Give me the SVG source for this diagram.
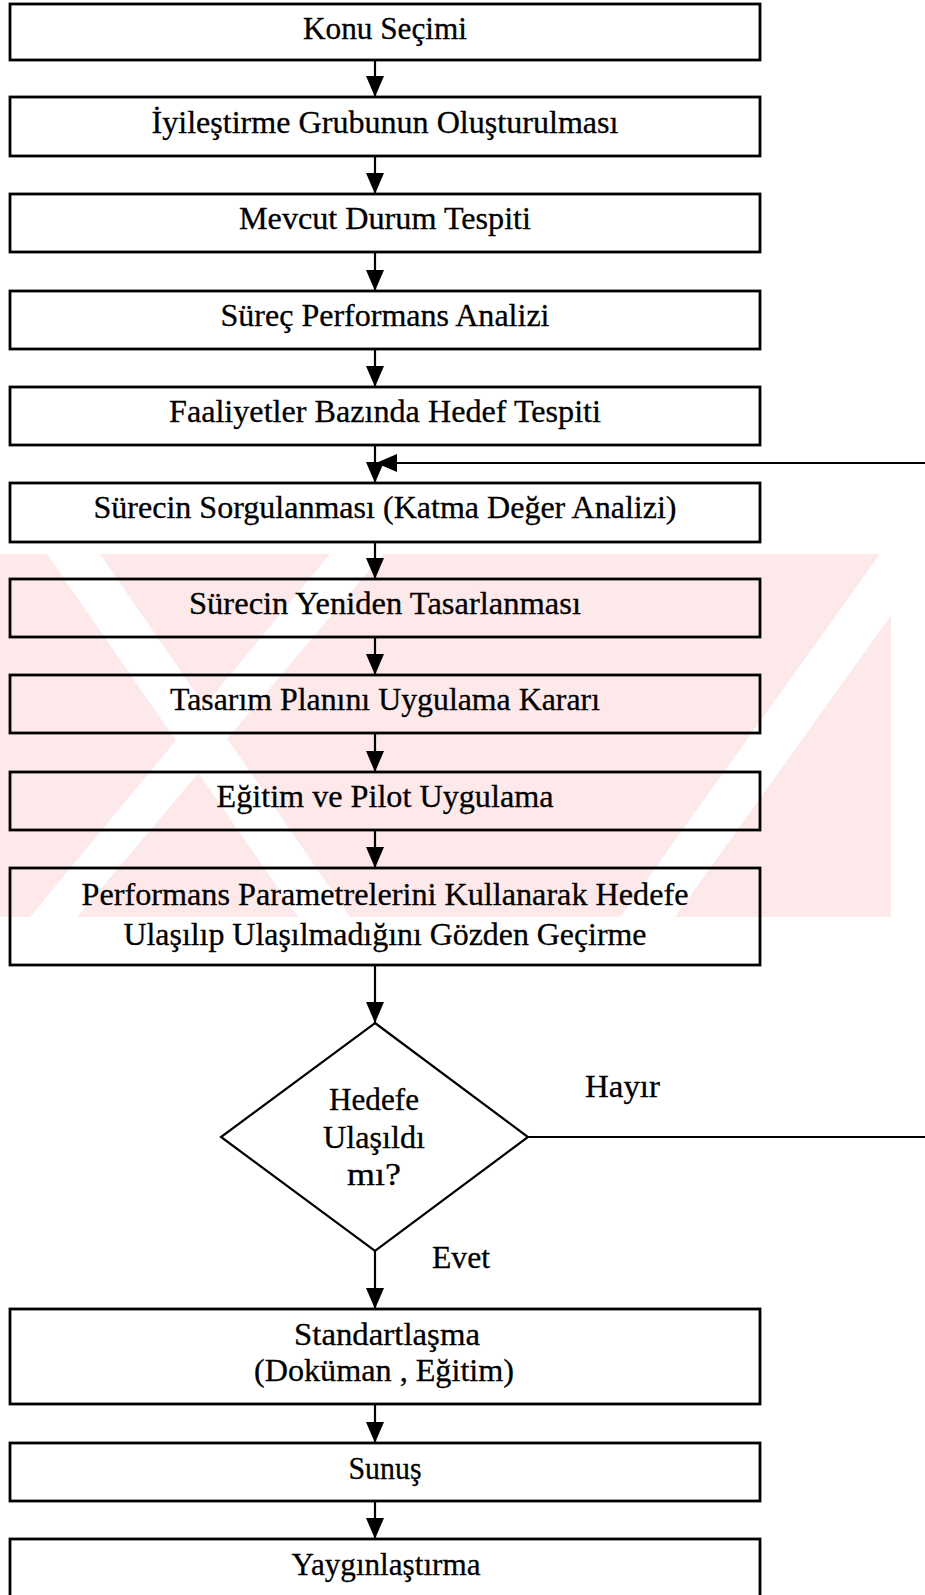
<svg xmlns="http://www.w3.org/2000/svg" width="925" height="1595" viewBox="0 0 925 1595">
<style>
  .box { fill: none; stroke: #000; stroke-width: 2.8; }
  .dia { fill: none; stroke: #000; stroke-width: 2.2; }
  .t { font-family: "Liberation Serif", "Times New Roman", serif; font-size: 31px; fill: #000; stroke: #000; stroke-width: 0.3; text-anchor: middle; }
  .lbl { font-family: "Liberation Serif", "Times New Roman", serif; font-size: 31px; fill: #000; stroke: #000; stroke-width: 0.3; }
  .con { fill: none; stroke: #000; stroke-width: 2.2; }
  .wm { fill: #fde9e9; }
  .gap { fill: #ffffff; }
</style>
<defs>
  <marker id="ah" markerUnits="userSpaceOnUse" markerWidth="22" markerHeight="20" refX="21" refY="10" orient="auto">
    <path d="M0,1 L21,10 L0,19 z" fill="#000"/>
  </marker>
  <clipPath id="wmclip"><rect x="0" y="554" width="891" height="363"/></clipPath>
</defs>
<rect x="0" y="0" width="925" height="1595" fill="#fff"/>
<g id="watermark" clip-path="url(#wmclip)">
  <rect class="wm" x="0" y="554" width="891" height="363"/>
  <polygon class="gap" points="47,554 100,554 350,917 298,917"/>
  <polygon class="gap" points="30,917 77,917 383,554 330,554"/>
  <polygon class="gap" points="620,917 675,917 935,554 880,554"/>
</g>
<g id="connectors">
  <line class="con" x1="375" y1="60" x2="375" y2="97" marker-end="url(#ah)"/>
  <line class="con" x1="375" y1="156" x2="375" y2="194" marker-end="url(#ah)"/>
  <line class="con" x1="375" y1="252" x2="375" y2="291" marker-end="url(#ah)"/>
  <line class="con" x1="375" y1="349" x2="375" y2="387" marker-end="url(#ah)"/>
  <line class="con" x1="375" y1="445" x2="375" y2="483" marker-end="url(#ah)"/>
  <line class="con" x1="375" y1="542" x2="375" y2="579" marker-end="url(#ah)"/>
  <line class="con" x1="375" y1="637" x2="375" y2="675" marker-end="url(#ah)"/>
  <line class="con" x1="375" y1="733" x2="375" y2="772" marker-end="url(#ah)"/>
  <line class="con" x1="375" y1="830" x2="375" y2="868" marker-end="url(#ah)"/>
  <line class="con" x1="375" y1="965" x2="375" y2="1023" marker-end="url(#ah)"/>
  <line class="con" x1="375" y1="1251" x2="375" y2="1309" marker-end="url(#ah)"/>
  <line class="con" x1="375" y1="1404" x2="375" y2="1443" marker-end="url(#ah)"/>
  <line class="con" x1="375" y1="1501" x2="375" y2="1539" marker-end="url(#ah)"/>
  <line class="con" x1="528" y1="1137" x2="925" y2="1137"/>
  <line class="con" x1="925" y1="463" x2="376" y2="463" marker-end="url(#ah)"/>
  <text class="lbl" x="585" y="1097" textLength="75" lengthAdjust="spacingAndGlyphs">Hayır</text>
  <text class="lbl" x="432" y="1268" textLength="58" lengthAdjust="spacingAndGlyphs">Evet</text>
</g>
<g id="n1"><rect class="box" x="10" y="4" width="750" height="56"/><text class="t" x="385" y="39" textLength="164" lengthAdjust="spacingAndGlyphs">Konu Seçimi</text></g>
<g id="n2"><rect class="box" x="10" y="97" width="750" height="59"/><text class="t" x="385" y="133" textLength="467" lengthAdjust="spacingAndGlyphs">İyileştirme Grubunun Oluşturulması</text></g>
<g id="n3"><rect class="box" x="10" y="194" width="750" height="58"/><text class="t" x="385" y="229" textLength="292" lengthAdjust="spacingAndGlyphs">Mevcut Durum Tespiti</text></g>
<g id="n4"><rect class="box" x="10" y="291" width="750" height="58"/><text class="t" x="385" y="326" textLength="329" lengthAdjust="spacingAndGlyphs">Süreç Performans Analizi</text></g>
<g id="n5"><rect class="box" x="10" y="387" width="750" height="58"/><text class="t" x="385" y="422" textLength="432" lengthAdjust="spacingAndGlyphs">Faaliyetler Bazında Hedef Tespiti</text></g>
<g id="n6"><rect class="box" x="10" y="483" width="750" height="59"/><text class="t" x="385" y="518" textLength="583" lengthAdjust="spacingAndGlyphs">Sürecin Sorgulanması (Katma Değer Analizi)</text></g>
<g id="n7"><rect class="box" x="10" y="579" width="750" height="58"/><text class="t" x="385" y="614" textLength="392" lengthAdjust="spacingAndGlyphs">Sürecin Yeniden Tasarlanması</text></g>
<g id="n8"><rect class="box" x="10" y="675" width="750" height="58"/><text class="t" x="385" y="710" textLength="430" lengthAdjust="spacingAndGlyphs">Tasarım Planını Uygulama Kararı</text></g>
<g id="n9"><rect class="box" x="10" y="772" width="750" height="58"/><text class="t" x="385" y="807" textLength="337" lengthAdjust="spacingAndGlyphs">Eğitim ve Pilot Uygulama</text></g>
<g id="n10"><rect class="box" x="10" y="868" width="750" height="97"/><text class="t" x="385" y="905" textLength="607" lengthAdjust="spacingAndGlyphs">Performans Parametrelerini Kullanarak Hedefe</text><text class="t" x="385" y="945" textLength="523" lengthAdjust="spacingAndGlyphs">Ulaşılıp Ulaşılmadığını Gözden Geçirme</text></g>
<g id="n11"><polygon class="dia" points="375,1023 528,1137 375,1251 221,1137"/><text class="t" x="374" y="1110" textLength="90" lengthAdjust="spacingAndGlyphs">Hedefe</text><text class="t" x="374" y="1148" textLength="102" lengthAdjust="spacingAndGlyphs">Ulaşıldı</text><text class="t" x="374" y="1185" textLength="54" lengthAdjust="spacingAndGlyphs">mı?</text></g>
<g id="n12"><rect class="box" x="10" y="1309" width="750" height="95"/><text class="t" x="387" y="1345" textLength="186" lengthAdjust="spacingAndGlyphs">Standartlaşma</text><text class="t" x="384" y="1381" textLength="260" lengthAdjust="spacingAndGlyphs">(Doküman , Eğitim)</text></g>
<g id="n13"><rect class="box" x="10" y="1443" width="750" height="58"/><text class="t" x="385" y="1479" textLength="73" lengthAdjust="spacingAndGlyphs">Sunuş</text></g>
<g id="n14"><rect class="box" x="10" y="1539" width="750" height="70"/><text class="t" x="386" y="1575" textLength="189" lengthAdjust="spacingAndGlyphs">Yaygınlaştırma</text></g>
</svg>
